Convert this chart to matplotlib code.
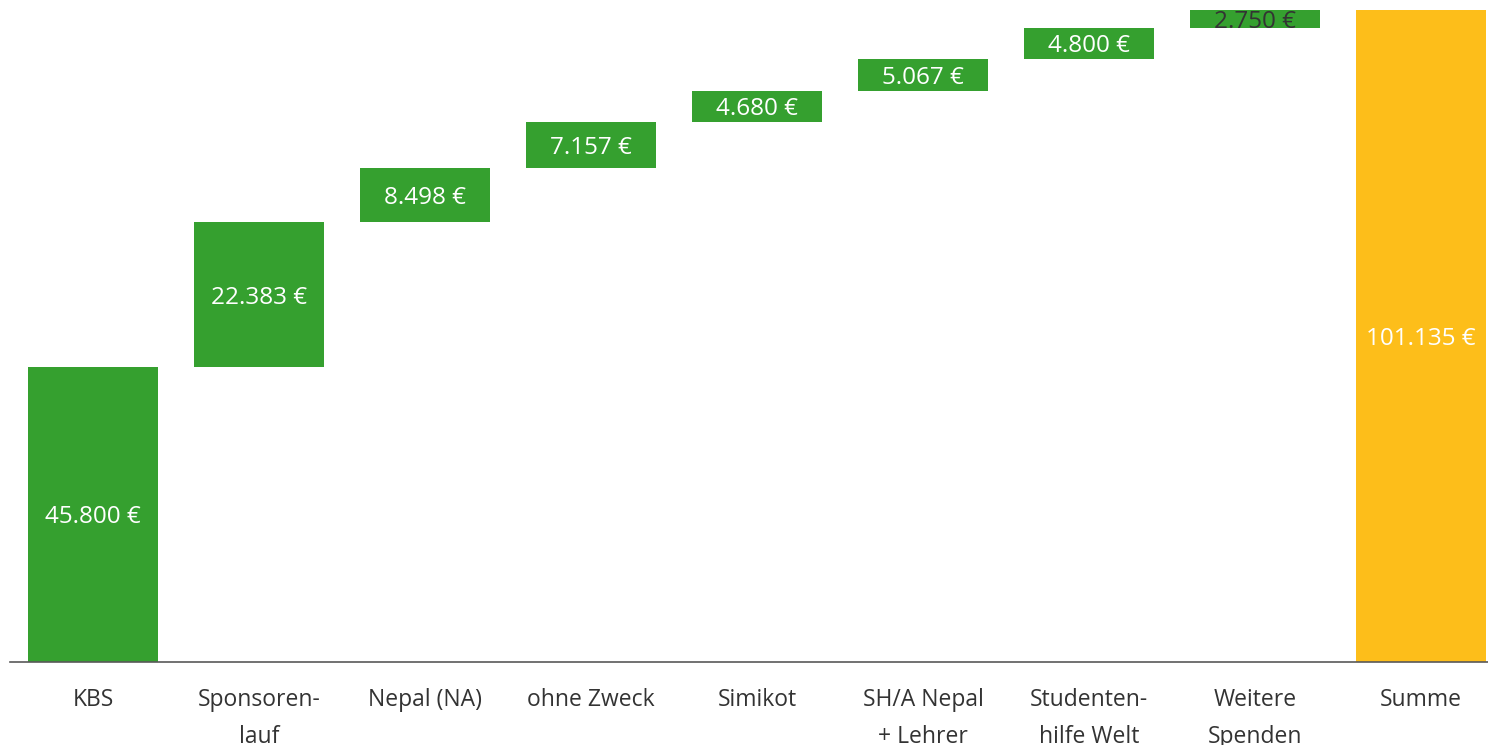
import matplotlib
matplotlib.use("Agg")
import matplotlib.pyplot as plt

plt.rcParams["font.family"] = ["Open Sans", "DejaVu Sans"]

categories = ["KBS", "Sponsoren-\nlauf", "Nepal (NA)", "ohne Zweck", "Simikot",
              "SH/A Nepal\n+ Lehrer", "Studenten-\nhilfe Welt", "Weitere\nSpenden", "Summe"]
steps = [45800, 22383, 8498, 7157, 4680, 5067, 4800, 2750]
total = sum(steps)  # 101135

green = "#35A02F"
yellow = "#FDBE1A"


def fmt(v):
    return f"{v:,}".replace(",", ".") + " €"


fig = plt.figure(figsize=(14.88, 7.45), dpi=100)
ax = fig.add_axes([10 / 1488, 83 / 745, 1478 / 1488, 662 / 745])

bottom = 0
for i, v in enumerate(steps):
    ax.bar(i, v, bottom=bottom, width=0.783, color=green)
    col = "#333333" if v < 3000 else "white"
    ax.text(i, bottom + v / 2, fmt(v), ha="center", va="center_baseline",
            fontsize=17.5, color=col)
    bottom += v

n = len(steps)
ax.bar(n, total, width=0.783, color=yellow)
ax.text(n, total / 2, fmt(total), ha="center", va="center_baseline",
        fontsize=17.5, color="white")

ax.set_xlim(-0.5, 8.404)
ax.set_ylim(0, total * 662 / 652)
ax.set_xticks(range(len(categories)))
ax.set_xticklabels(categories, fontsize=16.5, color="#333333",
                   linespacing=1.7, va="top")
ax.tick_params(axis="x", length=0, pad=19)
ax.set_yticks([])
for s in ["top", "right", "left"]:
    ax.spines[s].set_visible(False)
ax.spines["bottom"].set_color("#595959")
ax.spines["bottom"].set_linewidth(1.2)

fig.savefig("out.png", dpi=100)
